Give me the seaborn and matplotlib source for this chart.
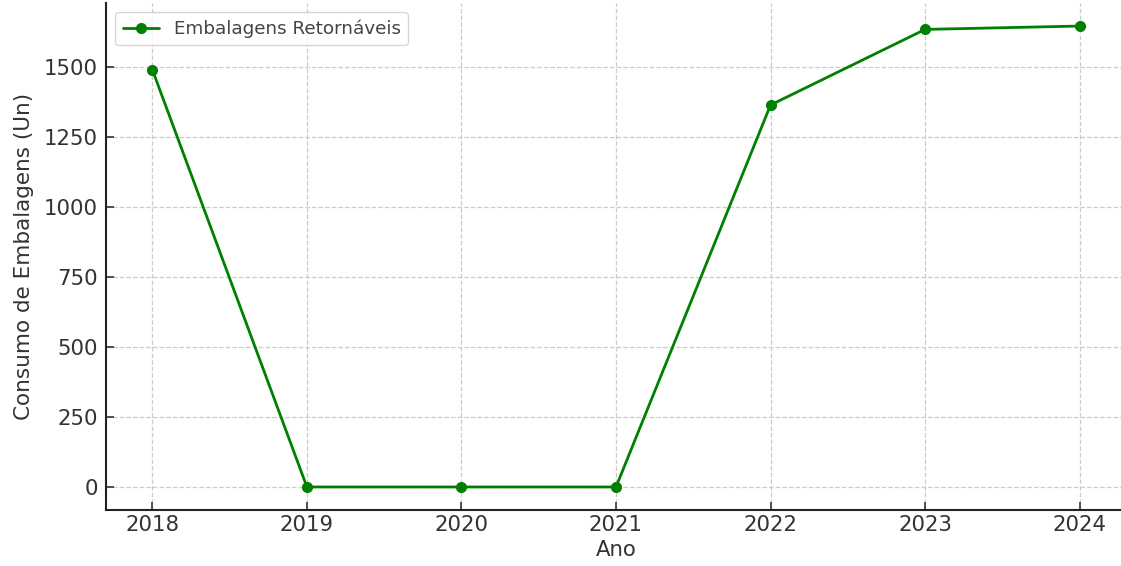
import matplotlib
matplotlib.use("Agg")
import matplotlib.pyplot as plt
import seaborn as sns
import pandas as pd

anos = [2018, 2019, 2020, 2021, 2022, 2023, 2024]
consumo = [1490, 0, 0, 0, 1364, 1634, 1646]
serie = "Embalagens Retornáveis"

df = pd.DataFrame({"Ano": anos, "Consumo": consumo})

sns.set_theme(style="ticks")
plt.rcParams['font.family'] = ['DejaVu Sans']

fig = plt.figure(figsize=(11.21, 5.66), dpi=100)
ax = fig.add_axes([106/1121, 1 - 510/566, 1020/1121, (510 - 3)/566])

sns.lineplot(data=df, x="Ano", y="Consumo", ax=ax, color="green", marker="o",
             markersize=8, markeredgewidth=0, linewidth=2, label=serie)

ax.grid(True, linestyle="--", color="#cccccc", linewidth=0.9)
ax.set_xticks(anos)
ax.set_yticks([0, 250, 500, 750, 1000, 1250, 1500])
ax.tick_params(axis="both", direction="in", labelsize=15.3, colors="#333333", length=6, width=1.2)
ax.tick_params(axis="y", pad=6)
for s in ["top", "right"]:
    ax.spines[s].set_visible(False)
for s in ["left", "bottom"]:
    ax.spines[s].set_color("#222222")
    ax.spines[s].set_linewidth(1.5)

ax.set_xlabel("Ano", fontsize=15.3, color="#333333")
ax.set_ylabel("Consumo de Embalagens (Un)", fontsize=15.5, color="#333333", labelpad=7)

leg = ax.legend(loc="upper left", fontsize=13.2, frameon=True, fancybox=True)
for t in leg.get_texts():
    t.set_color("#444444")

fig.savefig("out.png", dpi=100)
